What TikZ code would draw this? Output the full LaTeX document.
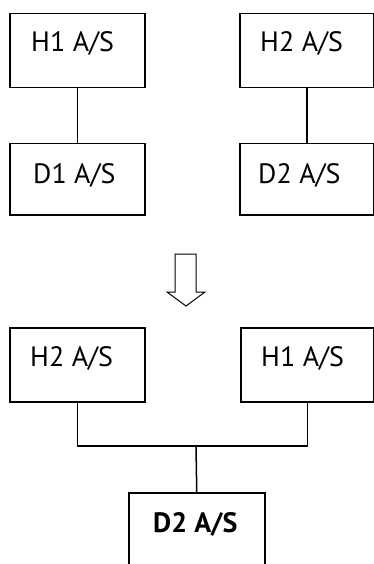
\documentclass[tikz,border=0pt]{standalone}
\usepackage{fontspec}
\setmainfont{PT Sans}
\begin{document}
\begin{tikzpicture}[x=1pt,y=-1pt,
  box/.style={draw=black,line width=1.5pt},
  lbl/.style={anchor=base west,inner sep=0pt,font=\fontsize{28}{30}\selectfont},
  link/.style={draw=black,line width=1.5pt}]
  \useasboundingbox (0,0) rectangle (374,564);
  \clip (0,0) rectangle (374,564);
  % before
  \node[box,minimum width=135pt,minimum height=74pt,anchor=north west] (h1a) at (9,13) {};
  \node[box,minimum width=135pt,minimum height=71pt,anchor=north west] (d1a) at (9,143) {};
  \node[box,minimum width=134pt,minimum height=74pt,anchor=north west] (h2a) at (239,13) {};
  \node[box,minimum width=134pt,minimum height=71pt,anchor=north west] (d2a) at (239,143) {};
  \node[lbl] (h1at) at (31,52) {H1 A/S};
  \node[lbl] (d1at) at (33,183) {D1 A/S};
  \node[lbl] (h2at) at (260,52) {H2 A/S};
  \node[lbl] (d2at) at (258,183) {D2 A/S};
  \draw[link] (h1a.south) -- (d1a.north);
  \draw[link] (h2a.south) -- (d2a.north);
  % arrow
  \draw[line width=1pt,line join=miter] (175,254) -- (196,254) -- (196,292) -- (205,292)
     -- (186,306) -- (167,292) -- (175,292) -- cycle;
  % after
  \node[box,minimum width=135pt,minimum height=74pt,anchor=north west] (h2b) at (9,327) {};
  \node[box,minimum width=133pt,minimum height=74pt,anchor=north west] (h1b) at (240,327) {};
  \node[box,minimum width=136pt,minimum height=90pt,anchor=north west] (d2b) at (128,492) {};
  \node[lbl] (h2bt) at (30,366) {H2 A/S};
  \node[lbl] (h1bt) at (261,366) {H1 A/S};
  \node[lbl,font=\fontsize{28}{30}\selectfont\bfseries] (d2bt) at (153,532) {D2 A/S};
  \coordinate (j) at (196,446);
  \draw[link] (h2b.south) |- (j) -| (h1b.south);
  \draw[link] (j) -- (d2b.north);
\end{tikzpicture}
\end{document}
